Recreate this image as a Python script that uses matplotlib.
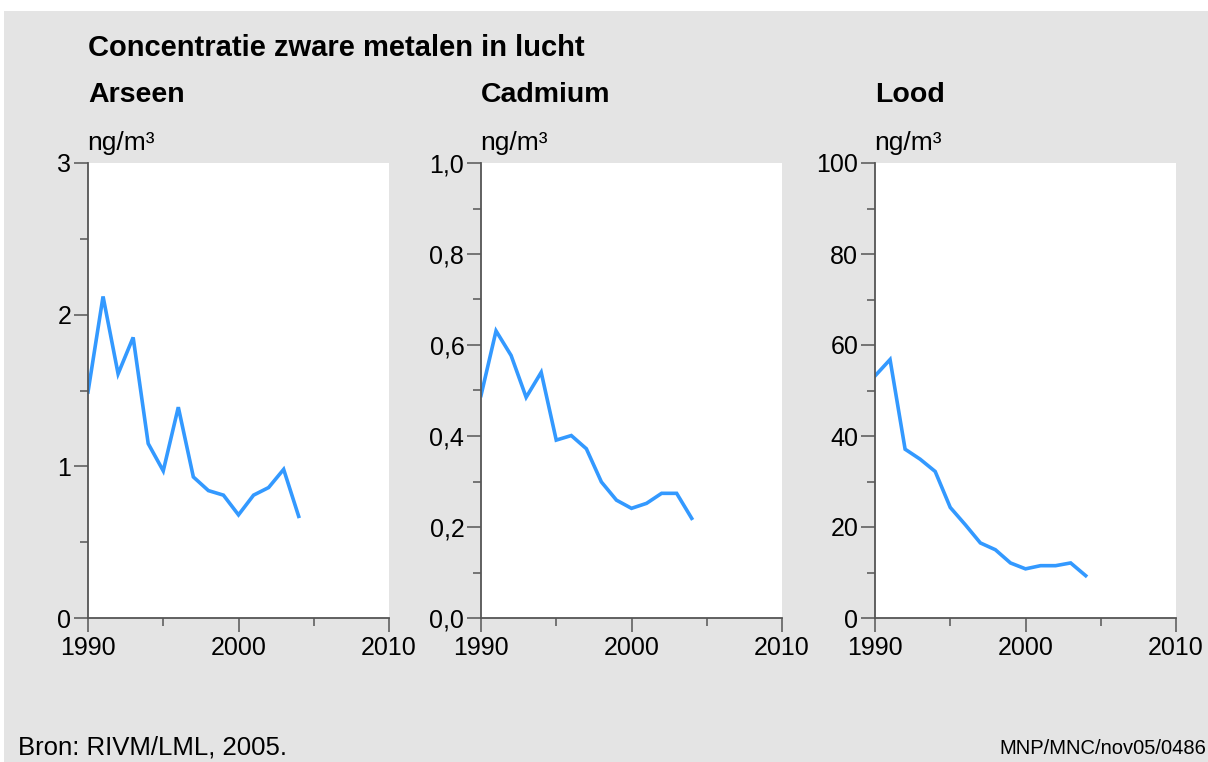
import matplotlib
matplotlib.use('Agg')
import matplotlib.pyplot as plt
from matplotlib.ticker import MultipleLocator, FuncFormatter
from matplotlib.patches import Rectangle

plt.rcParams['font.family'] = ['Liberation Sans', 'DejaVu Sans']

years = list(range(1990, 2005))
arseen = [1.49, 2.12, 1.61, 1.85, 1.15, 0.97, 1.39, 0.93, 0.84, 0.81, 0.68, 0.81, 0.86, 0.98, 0.67]
cadmium = [0.489, 0.631, 0.577, 0.485, 0.540, 0.391, 0.401, 0.372, 0.299, 0.259, 0.241, 0.252, 0.274, 0.274, 0.219]
lood = [53.2, 56.8, 37.1, 34.9, 32.2, 24.3, 20.5, 16.5, 15.0, 12.1, 10.8, 11.5, 11.5, 12.1, 9.3]

titles = ['Arseen', 'Cadmium', 'Lood']
series = [arseen, cadmium, lood]
ymax = [3, 1.0, 100]
ymajor = [1, 0.2, 20]
yminor = [0.5, 0.1, 10]
ydec = [0, 1, 0]

W, H = 1208, 762
fig = plt.figure(figsize=(W / 100, H / 100), dpi=100)
fig.patch.set_facecolor('white')
fig.patches.append(Rectangle((4 / W, 0), 1, (H - 11) / H, transform=fig.transFigure,
                             facecolor='#e4e4e4', edgecolor='none', zorder=-10))

lefts = [88, 481, 875]
axcol = '#555555'
for i in range(3):
    ax = fig.add_axes([lefts[i] / W, (H - 618) / H, 301 / W, 455 / H])
    ax.set_facecolor('white')
    ax.plot(years, series[i], color='#3399ff', lw=2.6, solid_joinstyle='miter')
    ax.set_xlim(1990, 2010)
    ax.set_ylim(0, ymax[i])
    ax.xaxis.set_major_locator(MultipleLocator(10))
    ax.xaxis.set_minor_locator(MultipleLocator(5))
    ax.yaxis.set_major_locator(MultipleLocator(ymajor[i]))
    ax.yaxis.set_minor_locator(MultipleLocator(yminor[i]))
    d = ydec[i]
    ax.yaxis.set_major_formatter(FuncFormatter(lambda v, p, d=d: ('%.*f' % (d, v)).replace('.', ',')))
    for s in ['top', 'right']:
        ax.spines[s].set_visible(False)
    for s in ['left', 'bottom']:
        ax.spines[s].set_color(axcol)
        ax.spines[s].set_linewidth(1.3)
    ax.tick_params(which='major', length=10, width=1.1, color=axcol, labelsize=18, pad=2)
    ax.tick_params(which='minor', length=5.5, width=1.1, color=axcol)
    ax.tick_params(axis='x', which='major', pad=3)
    ax.text(lefts[i] / W, (H - 95) / H, titles[i], transform=fig.transFigure,
            fontsize=20.5, fontweight='bold', va='center', ha='left')
    ax.text((lefts[i] - 1) / W, (H - 143) / H, 'ng/m³', transform=fig.transFigure,
            fontsize=19, va='center', ha='left')

fig.text(88 / W, (H - 48) / H, 'Concentratie zware metalen in lucht',
         fontsize=21, fontweight='bold', va='center', ha='left')
fig.text(18 / W, (H - 747) / H, 'Bron: RIVM/LML, 2005.', fontsize=18.5, va='center', ha='left')
fig.text(1206 / W, (H - 749) / H, 'MNP/MNC/nov05/0486', fontsize=14.5, va='center', ha='right')

fig.savefig('out.png', dpi=100)
